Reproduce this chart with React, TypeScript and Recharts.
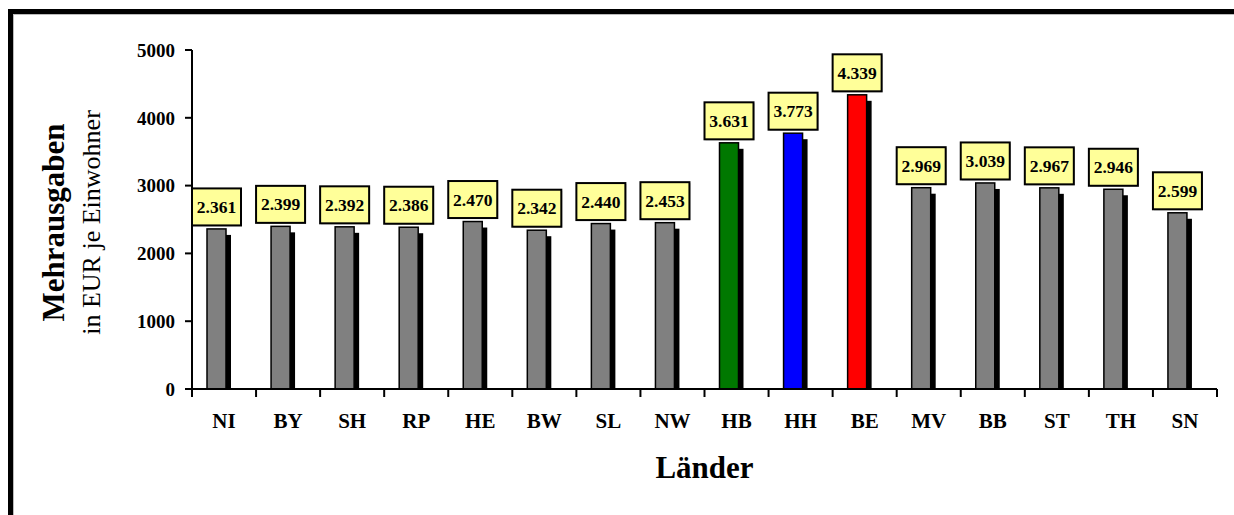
import { Bar, BarChart, LabelList, XAxis, YAxis } from "recharts";

// Mehrausgaben in EUR je Einwohner nach Ländern
const LAENDER = ["NI", "BY", "SH", "RP", "HE", "BW", "SL", "NW", "HB", "HH", "BE", "MV", "BB", "ST", "TH", "SN"];
const MEHRAUSGABEN = [2361, 2399, 2392, 2386, 2470, 2342, 2440, 2453, 3631, 3773, 4339, 2969, 3039, 2967, 2946, 2599];
const FARBEN = [
  "#808080", "#808080", "#808080", "#808080", "#808080", "#808080", "#808080", "#808080",
  "#007800", "#0000ff", "#ff0000",
  "#808080", "#808080", "#808080", "#808080", "#808080",
];
const Y_TICKS = [0, 1000, 2000, 3000, 4000, 5000];

const FONT = '"Liberation Serif", "Times New Roman", serif';

const W = 1234;
const H = 515;
const MARGIN = { top: 50, right: 17, bottom: 96, left: 132 };
const Y_AXIS_W = 60;
const X_AXIS_H = 30;

// bar is drawn a bit left of the category centre, shadow falls to the right
const SHIFT = -8;
const SHADOW_DX = 5;
const SHADOW_DY = 6;

const data = LAENDER.map((name, i) => ({
  name,
  wert: MEHRAUSGABEN[i],
  farbe: FARBEN[i],
}));

function formatDe(v: number) {
  const t = Math.floor(v / 1000);
  const r = String(v % 1000).padStart(3, "0");
  return t > 0 ? `${t}.${r}` : String(v);
}

function SchattenBalken(props: any) {
  const { x, y, width, height, payload } = props;
  const bx = x + SHIFT;
  return (
    <g>
      <rect
        x={bx + SHADOW_DX}
        y={y + SHADOW_DY}
        width={width}
        height={Math.max(0, height - SHADOW_DY)}
        fill="#000"
      />
      <rect
        x={bx}
        y={y}
        width={width}
        height={height}
        fill={payload.farbe}
        stroke="#000"
        strokeWidth={1.5}
      />
    </g>
  );
}

function WertBox(props: any) {
  const { x, y, width, value } = props;
  const cx = x + SHIFT + width / 2;
  const bw = 49;
  const bh = 37;
  const top = y - 3.5 - bh;
  return (
    <g>
      <rect x={cx - bw / 2 + 1} y={top + 1} width={bw} height={bh} fill="#bbb" />
      <rect x={cx - bw / 2} y={top} width={bw} height={bh} fill="#ffff99" stroke="#000" strokeWidth={2} />
      <text
        x={cx}
        y={top + bh / 2}
        dy="0.35em"
        textAnchor="middle"
        fontFamily={FONT}
        fontWeight="bold"
        fontSize={17.5}
        fill="#000"
      >
        {formatDe(Number(value))}
      </text>
    </g>
  );
}

function LandTick(props: any) {
  const { x, y, payload, index } = props;
  const half = typeof payload.offset === "number" && payload.offset > 0 ? payload.offset : 32;
  const last = index === LAENDER.length - 1;
  return (
    <g>
      <line x1={x - half} x2={x - half} y1={y} y2={y + 8} stroke="#000" strokeWidth={2} />
      {last && <line x1={x + half} x2={x + half} y1={y} y2={y + 8} stroke="#000" strokeWidth={2} />}
      <text
        x={x}
        y={y + 39}
        textAnchor="middle"
        fontFamily={FONT}
        fontWeight="bold"
        fontSize={21}
        fill="#000"
      >
        {payload.value}
      </text>
    </g>
  );
}

export default function App() {
  const plotLeft = MARGIN.left + Y_AXIS_W;
  const plotRight = W - MARGIN.right;
  const plotTop = MARGIN.top;
  const plotBottom = H - MARGIN.bottom - X_AXIS_H;
  const midY = (plotTop + plotBottom) / 2 + 3;

  return (
    <div
      style={{
        position: "absolute",
        left: 0,
        top: 0,
        width: W,
        height: H,
        overflow: "hidden",
        background: "#fff",
      }}
    >
      <div
        style={{
          position: "absolute",
          left: 8,
          top: 9,
          width: W + 40,
          height: H + 40,
          border: "5px solid #000",
          boxShadow: "inset 1px 1px 0 #bbb",
        }}
      />
      <div style={{ position: "absolute", left: 0, top: 0 }}>
        <BarChart width={W} height={H} data={data} margin={MARGIN}>
          <XAxis
            dataKey="name"
            height={X_AXIS_H}
            interval={0}
            tickLine={false}
            tickSize={0}
            tickMargin={0}
            axisLine={{ stroke: "#000", strokeWidth: 2 }}
            tick={(p: any) => <LandTick {...p} />}
            label={{
              content: () => (
                <text
                  x={(plotLeft + plotRight) / 2}
                  y={478}
                  textAnchor="middle"
                  fontFamily={FONT}
                  fontWeight="bold"
                  fontSize={31}
                  fill="#000"
                >
                  Länder
                </text>
              ),
            }}
          />
          <YAxis
            width={Y_AXIS_W}
            domain={[0, 5000]}
            ticks={Y_TICKS}
            interval={0}
            tickSize={7}
            tickMargin={10}
            axisLine={{ stroke: "#000", strokeWidth: 2 }}
            tickLine={{ stroke: "#000", strokeWidth: 2 }}
            tick={{ fontFamily: FONT, fontWeight: "bold", fontSize: 19, fill: "#000" }}
            label={{
              content: () => (
                <g>
                  <text
                    x={64}
                    y={midY}
                    transform={`rotate(-90, 64, ${midY})`}
                    textAnchor="middle"
                    fontFamily={FONT}
                    fontWeight="bold"
                    fontSize={31}
                    fill="#000"
                  >
                    Mehrausgaben
                  </text>
                  <text
                    x={100}
                    y={midY}
                    transform={`rotate(-90, 100, ${midY})`}
                    textAnchor="middle"
                    fontFamily={FONT}
                    fontSize={26}
                    fill="#000"
                  >
                    in EUR je Einwohner
                  </text>
                </g>
              ),
            }}
          />
          <Bar
            dataKey="wert"
            barSize={19}
            isAnimationActive={false}
            shape={(p: any) => <SchattenBalken {...p} />}
          >
            <LabelList dataKey="wert" content={(p: any) => <WertBox {...p} />} />
          </Bar>
        </BarChart>
      </div>
    </div>
  );
}
